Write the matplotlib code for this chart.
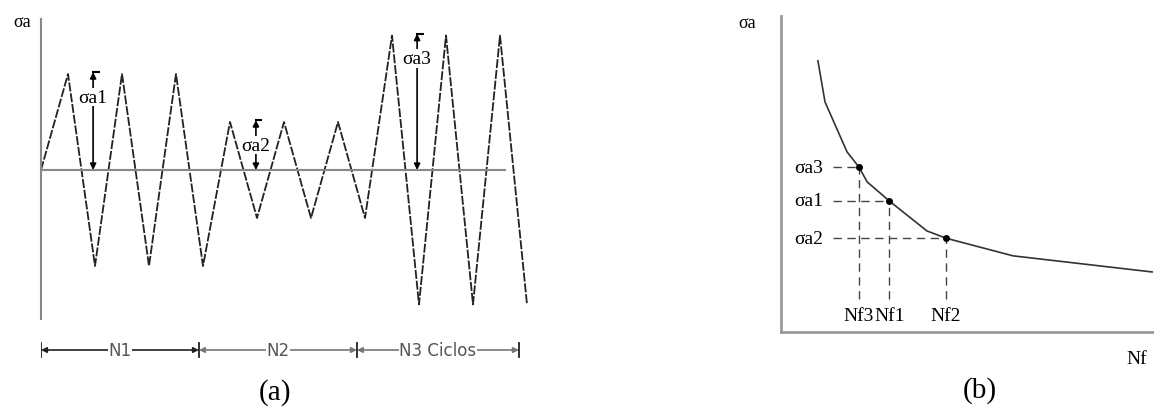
import numpy as np
import matplotlib.pyplot as plt

# (a) carregamento em blocos: amplitude relativa e numero de picos por bloco
block_amps = [1.0, 0.5, 1.4]          # sigma_a1, sigma_a2, sigma_a3
block_peaks = [3, 3, 3]
block_labels = ['N1', 'N2', 'N3 Ciclos']
block_edges = [0.0, 5.85, 11.7, 17.7]  # cotas da linha de dimensao (meios ciclos)
arrow_t = [1.93, 7.96, 13.93]          # onde ficam as setas de amplitude
arrow_names = ['\u03c3a1', '\u03c3a2', '\u03c3a3']
baseline_end = 17.2

# (b) curva S-N (unidades arbitrarias)
sn_x = [9.9, 11.8, 17.7, 20.9, 23.1, 29.0, 39.1, 44.2, 62.2, 99.5]
sn_y = [85.8, 72.8, 57.0, 52.2, 47.5, 41.5, 32.0, 29.7, 24.1, 19.0]
pt_x = [20.9, 29.0, 44.2]
pt_y = [52.2, 41.5, 29.7]
pt_ylabels = ['\u03c3a3', '\u03c3a1', '\u03c3a2']
pt_xlabels = ['Nf3', 'Nf1', 'Nf2']

W, H = 1154, 414
serif = ['Liberation Serif', 'DejaVu Serif']


def px_box(l, t, r, b):
    return [l / W, 1 - b / H, (r - l) / W, (b - t) / H]


fig = plt.figure(figsize=(W / 100, H / 100), dpi=100)

# ---------------- painel (a) ----------------
ax = fig.add_axes(px_box(41, 10, 545, 370))
ax.set_xlim(0, 504 / 27)
ax.set_ylim(-199 / 96, 161 / 96)
for s in ['top', 'right', 'bottom']:
    ax.spines[s].set_visible(False)
ax.spines['left'].set_color('#888888')
ax.spines['left'].set_linewidth(1.5)
ax.spines['left'].set_bounds(-1.55, 1.57)
ax.set_xticks([])
ax.set_yticks([])
ax.patch.set_alpha(0)

# sinal em zigue-zague
sig = [0.0]
for amp, n in zip(block_amps, block_peaks):
    for _ in range(n):
        sig += [amp, -amp]
t = np.arange(len(sig))
ax.plot(t, sig, color='#222222', lw=1.3, ls=(0, (5, 1)))
ax.plot([0, baseline_end], [0, 0], color='#888888', lw=1.5)

ax.text(-0.7, 1.55, '\u03c3a', fontsize=13, family=serif, ha='center', va='center')

for x, amp, name in zip(arrow_t, block_amps, arrow_names):
    ax.annotate('', xy=(x, amp + 0.02), xytext=(x, 0),
                arrowprops=dict(arrowstyle='<|-|>', color='black', lw=1.2,
                                mutation_scale=9, shrinkA=0, shrinkB=0))
    ax.plot([x, x + 0.2], [amp + 0.02, amp + 0.02], color='black', lw=1.5)
    ax.text(x, amp - 0.24, name, fontsize=14, family=serif, ha='center', va='center',
            bbox=dict(facecolor='white', edgecolor='none', pad=0.5))

# linha de cota N1 / N2 / N3
yd = -1.875
dim_colors = ['#222222', '#777777', '#777777']
for i, lab in enumerate(block_labels):
    a0, a1 = block_edges[i], block_edges[i + 1]
    ax.annotate('', xy=(a1, yd), xytext=(a0, yd),
                arrowprops=dict(arrowstyle='<|-|>', color=dim_colors[i], lw=1.2,
                                mutation_scale=8, shrinkA=0, shrinkB=0))
    ax.text((a0 + a1) / 2, yd, lab, fontsize=12, color='#555555',
            ha='center', va='center',
            bbox=dict(facecolor='white', edgecolor='none', pad=0.3))
for e in block_edges:
    ax.plot([e, e], [yd - 0.07, yd + 0.07], color='#222222', lw=1.3)

fig.text(275 / W, 1 - 393 / H, '(a)', fontsize=21, family=serif, ha='center', va='center')

# ---------------- painel (b) ----------------
bx = fig.add_axes(px_box(781, 17, 1154, 333))
bx.set_xlim(0, 100)
bx.set_ylim(0, 100)
for s in ['top', 'right']:
    bx.spines[s].set_visible(False)
for s in ['left', 'bottom']:
    bx.spines[s].set_color('#999999')
    bx.spines[s].set_linewidth(2)
bx.set_xticks([])
bx.set_yticks([])

bx.plot(sn_x, sn_y, color='#333333', lw=1.2)

x_start, y_end = 13.9, 10.4
for x, y, yl, xl in zip(pt_x, pt_y, pt_ylabels, pt_xlabels):
    bx.plot([x_start, x], [y, y], color='#444444', lw=1, dashes=(6, 4))
    bx.plot([x, x], [y_end, y], color='#444444', lw=1, dashes=(6, 4))
    bx.text(11.2, y, yl, fontsize=14, family=serif, ha='right', va='center')
    bx.text(x, 5.1, xl, fontsize=14, family=serif, ha='center', va='center')
bx.plot(pt_x, pt_y, 'o', color='black', ms=4)

bx.text(-9.1, 97.8, '\u03c3a', fontsize=13, family=serif, ha='center', va='center')
bx.text(95.4, -8.5, 'Nf', fontsize=14, family=serif, ha='center', va='center')

fig.text(980 / W, 1 - 391 / H, '(b)', fontsize=21, family=serif, ha='center', va='center')

fig.savefig('out.png', dpi=100)
